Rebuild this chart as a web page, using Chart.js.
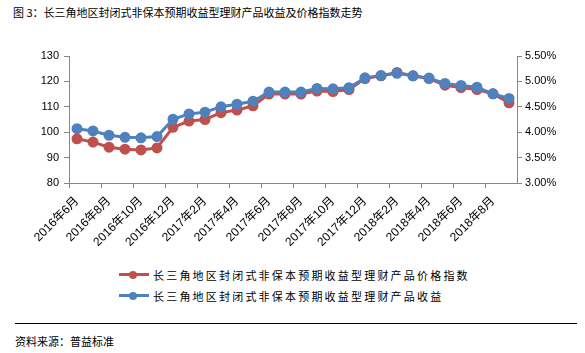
<!DOCTYPE html>
<html>
<head>
<meta charset="utf-8">
<script src="https://cdn.jsdelivr.net/npm/chart.js@4/dist/chart.umd.min.js"></script>
<style>
  body { margin: 0; background: #fff; width: 585px; height: 353px; position: relative; overflow: hidden; font-family: "Noto Sans CJK SC", sans-serif; color: #000; }
  #title { position: absolute; left: 13px; top: 4px; font-size: 11px; line-height: 16px; }
  #wrap { position: absolute; left: 0; top: 0; width: 585px; height: 260px; }
  #legend { position: absolute; left: 119px; top: 264px; }
  .item { display: flex; align-items: center; height: 21px; font-size: 11px; letter-spacing: 2.2px; white-space: nowrap; }
  .sw { position: relative; width: 30px; height: 10px; margin-right: 4px; }
  .sw i { position: absolute; left: 0; right: 0; top: 3.5px; height: 3px; }
  .sw b { position: absolute; left: 10px; top: 1px; width: 8px; height: 8px; border-radius: 50%; }
  #rule { position: absolute; left: 15px; width: 562px; top: 323px; border-top: 1px solid #000; }
  #source { position: absolute; left: 15px; top: 333px; font-size: 11px; line-height: 16px; }
</style>
</head>
<body>
<div id="title">图 3：长三角地区封闭式非保本预期收益型理财产品收益及价格指数走势</div>
<div id="wrap"><canvas id="chart"></canvas></div>
<div id="legend"></div>
<div id="rule"></div>
<div id="source">资料来源：普益标准</div>
<script>
const months = [
  "2016年6月", "2016年7月", "2016年8月", "2016年9月", "2016年10月", "2016年11月", "2016年12月",
  "2017年1月", "2017年2月", "2017年3月", "2017年4月", "2017年5月", "2017年6月", "2017年7月",
  "2017年8月", "2017年9月", "2017年10月", "2017年11月", "2017年12月", "2018年1月", "2018年2月",
  "2018年3月", "2018年4月", "2018年5月", "2018年6月", "2018年7月", "2018年8月", "2018年9月",
];
// 价格指数（左轴）
const priceIndex = [97.4, 96.1, 94.1, 93.3, 93.0, 93.8, 101.9, 104.4, 105.0, 107.7, 108.7, 110.4, 115.0, 115.0,
  115.0, 116.2, 116.0, 116.8, 121.1, 122.2, 123.5, 122.2, 121.1, 118.5, 117.6, 116.8, 115.1, 111.6];
// 收益率 %（右轴）
const yieldPct = [4.07, 4.025, 3.94, 3.90, 3.89, 3.915, 4.255, 4.36, 4.395, 4.50, 4.55, 4.61, 4.79, 4.79,
  4.79, 4.86, 4.855, 4.875, 5.07, 5.115, 5.16, 5.11, 5.065, 4.96, 4.92, 4.885, 4.755, 4.665];

const priceLabel = "长三角地区封闭式非保本预期收益型理财产品价格指数";
const yieldLabel = "长三角地区封闭式非保本预期收益型理财产品收益";

const RED = "#C0504D";
const BLUE = "#4F81BD";
const AXIS = "#868686";
const tickFont = { family: '"Liberation Sans", "Noto Sans CJK SC", sans-serif', size: 11 };

function series(label, data, color, axis, order) {
  return {
    label, data, yAxisID: axis, order,
    borderColor: color, backgroundColor: color,
    pointBackgroundColor: color, pointBorderColor: color,
    borderWidth: 3, pointRadius: 4, pointHoverRadius: 4, tension: 0,
  };
}

const chart = new Chart(document.getElementById("chart"), {
  type: "line",
  data: {
    labels: months,
    datasets: [
      series(priceLabel, priceIndex, RED, "y", 1),
      series(yieldLabel, yieldPct, BLUE, "y1", 0),
    ],
  },
  options: {
    responsive: true,
    maintainAspectRatio: false,
    animation: false,
    layout: { padding: { top: 56, left: 0, right: 0, bottom: 0 } },
    plugins: { legend: { display: false }, tooltip: { enabled: false } },
    scales: {
      x: {
        offset: true,
        grid: {
          offset: true, drawOnChartArea: false, tickLength: 5,
          tickColor: c => (c.index % 2 === 0 ? AXIS : "rgba(0,0,0,0)"),
        },
        border: { color: AXIS, width: 1 },
        ticks: {
          autoSkip: false, maxRotation: 45, minRotation: 45, padding: 6,
          color: "#000", font: { ...tickFont, size: 12 },
          callback: (v, i) => (i % 2 === 0 ? months[i] : ""),
        },
        afterFit: s => { s.height = 77; },
      },
      y: {
        position: "left", min: 80, max: 130,
        grid: { drawOnChartArea: false, tickLength: 5, tickColor: AXIS },
        border: { color: AXIS, width: 1 },
        ticks: { stepSize: 10, padding: 5, color: "#000", font: tickFont },
        afterFit: s => { s.width = 69; },
      },
      y1: {
        position: "right", min: 3, max: 5.5,
        grid: { drawOnChartArea: false, tickLength: 5, tickColor: AXIS },
        border: { color: AXIS, width: 1 },
        ticks: { stepSize: 0.5, padding: 3, color: "#000", font: tickFont, callback: v => v.toFixed(2) + "%" },
        afterFit: s => { s.width = 68; },
      },
    },
  },
});

// 图例（按原图顺序：价格指数在上）
const legend = document.getElementById("legend");
chart.data.datasets.forEach(ds => {
  const row = document.createElement("div");
  row.className = "item";
  row.innerHTML = `<span class="sw"><i style="background:${ds.borderColor}"></i><b style="background:${ds.borderColor}"></b></span>`;
  const t = document.createElement("span");
  t.textContent = ds.label;
  row.appendChild(t);
  legend.appendChild(row);
});
</script>
</body>
</html>
